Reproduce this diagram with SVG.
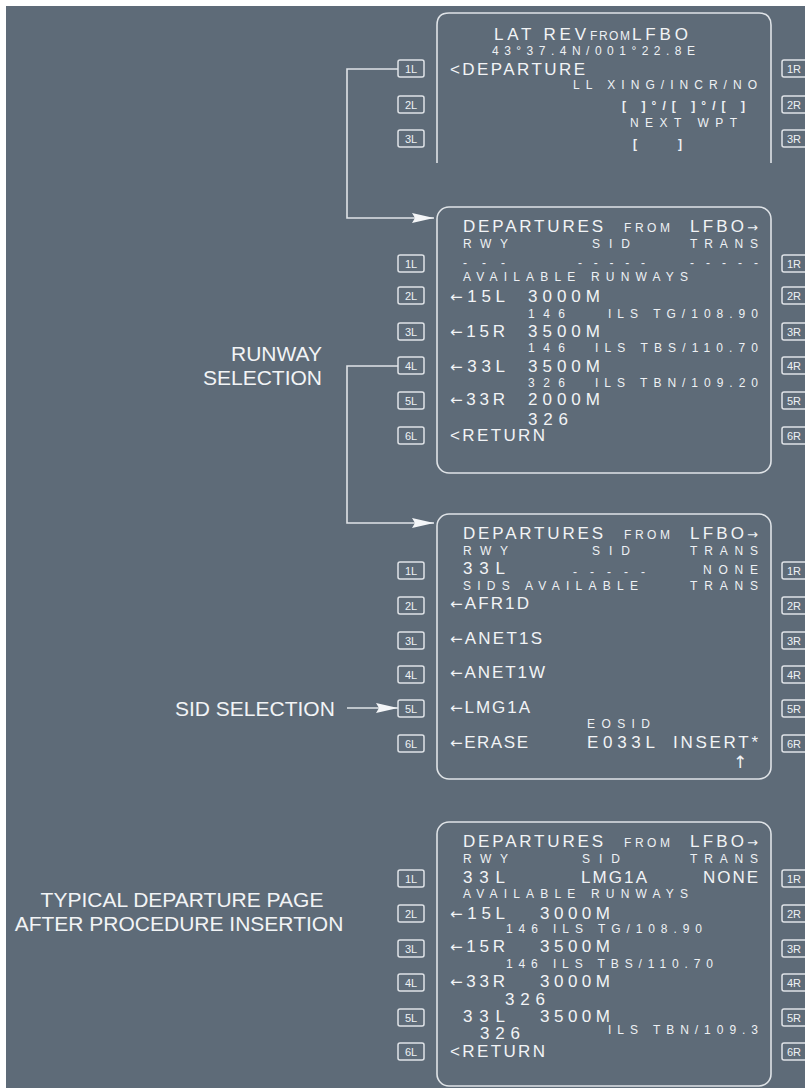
<svg xmlns="http://www.w3.org/2000/svg" width="805" height="1088" viewBox="0 0 805 1088">
<defs>
<style>
.bg{fill:#5e6b78}
.scr{fill:none;stroke:#dfe3e7;stroke-width:1.6}
.btn rect{fill:none;stroke:#dfe3e7;stroke-width:1.5}
.btn text{font-family:"Liberation Sans Narrow","Liberation Sans",Arial,sans-serif;font-size:11px;fill:#eef1f4;text-anchor:middle}
.b{font-family:"Liberation Sans",Arial,sans-serif;font-size:17px;fill:#f2f4f6}
.s{font-family:"Liberation Sans",Arial,sans-serif;font-size:12px;fill:#eef1f4}
.ar{font-family:"DejaVu Sans",sans-serif}
.lbl{font-family:"Liberation Sans",Arial,sans-serif;font-size:21px;fill:#f2f4f6}
.con{fill:none;stroke:#dfe3e7;stroke-width:1.6}
</style>
<marker id="ah" markerUnits="userSpaceOnUse" markerWidth="24" markerHeight="12" refX="22" refY="6" orient="auto">
<path d="M0,1 L22,6 L0,11 L3,6 Z" fill="#f4f6f8"/>
</marker>
</defs>
<rect width="805" height="1088" fill="#ffffff"/>
<rect class="bg" x="6" y="6" width="799" height="1082"/>

<!-- Screen 1: LAT REV -->
<g id="screen-latrev">
<path class="scr" d="M437,163 V25 Q437,13 449,13 H759 Q771,13 771,25 V163"/>
<text class="b" x="494" y="40" textLength="92">LAT REV</text>
<text class="s" x="590" y="40" textLength="40">FROM</text>
<text class="b" x="632" y="40" textLength="56">LFBO</text>
<text class="s" x="492" y="55" textLength="203">43°37.4N/001°22.8E</text>
<text class="b" x="450" y="75" textLength="135">&lt;DEPARTURE</text>
<text class="s" x="573" y="89" textLength="184">LL XING/INCR/NO</text>
<text class="s" x="622" y="110" textLength="123" font-weight="bold">[ ]°/[ ]°/[ ]</text>
<text class="s" x="630" y="127" textLength="107">NEXT WPT</text>
<text class="s" x="633" y="148" font-weight="bold">[</text>
<text class="s" x="678" y="148" font-weight="bold">]</text>
<g class="btn">
<rect x="398" y="60" width="26" height="17" rx="2"/><text x="411" y="72.5">1L</text>
<rect x="398" y="96" width="26" height="17" rx="2"/><text x="411" y="108.5">2L</text>
<rect x="398" y="130" width="26" height="17" rx="2"/><text x="411" y="142.5">3L</text>
<rect x="782" y="60" width="26" height="17" rx="2"/><text x="794" y="72.5">1R</text>
<rect x="782" y="96" width="26" height="17" rx="2"/><text x="794" y="108.5">2R</text>
<rect x="782" y="130" width="26" height="17" rx="2"/><text x="794" y="142.5">3R</text>
</g>
</g>

<!-- Screen 2: DEPARTURES runway list -->
<g id="screen-runways">
<rect class="scr" x="437" y="207" width="334" height="266" rx="12"/>
<text class="b" x="463" y="232" textLength="140">DEPARTURES</text>
<text class="s" x="624" y="232" textLength="46">FROM</text>
<text class="b" x="690" y="232" textLength="68">LFBO<tspan class="ar" font-size="13">→</tspan></text>
<text class="s" x="463" y="248" textLength="45">RWY</text>
<text class="s" x="592" y="248" textLength="38">SID</text>
<text class="s" x="690" y="248" textLength="68">TRANS</text>
<text class="s" x="463" y="267" textLength="42">---</text>
<text class="s" x="578" y="267" textLength="67">-----</text>
<text class="s" x="690" y="267" textLength="68">-----</text>
<text class="s" x="463" y="281" textLength="225">AVAILABLE RUNWAYS</text>
<text class="b" x="450" y="302" textLength="55"><tspan class="ar" font-size="15">←</tspan>15L</text>
<text class="b" x="528" y="302" textLength="72">3000M</text>
<text class="s" x="528" y="318" textLength="37">146</text>
<text class="s" x="608" y="318" textLength="150">ILS TG/108.90</text>
<text class="b" x="450" y="337" textLength="55"><tspan class="ar" font-size="15">←</tspan>15R</text>
<text class="b" x="528" y="337" textLength="72">3500M</text>
<text class="s" x="528" y="352" textLength="37">146</text>
<text class="s" x="595" y="352" textLength="163">ILS TBS/110.70</text>
<text class="b" x="450" y="372" textLength="55"><tspan class="ar" font-size="15">←</tspan>33L</text>
<text class="b" x="528" y="372" textLength="72">3500M</text>
<text class="s" x="528" y="387" textLength="37">326</text>
<text class="s" x="595" y="387" textLength="163">ILS TBN/109.20</text>
<text class="b" x="450" y="405" textLength="55"><tspan class="ar" font-size="15">←</tspan>33R</text>
<text class="b" x="528" y="405" textLength="72">2000M</text>
<text class="b" x="528" y="425" textLength="40">326</text>
<text class="b" x="450" y="441" textLength="95">&lt;RETURN</text>
<g class="btn">
<rect x="398" y="255" width="26" height="17" rx="2"/><text x="411" y="267.5">1L</text>
<rect x="398" y="287" width="26" height="17" rx="2"/><text x="411" y="299.5">2L</text>
<rect x="398" y="323" width="26" height="17" rx="2"/><text x="411" y="335.5">3L</text>
<rect x="398" y="357" width="26" height="17" rx="2"/><text x="411" y="369.5">4L</text>
<rect x="398" y="392" width="26" height="17" rx="2"/><text x="411" y="404.5">5L</text>
<rect x="398" y="427" width="26" height="17" rx="2"/><text x="411" y="439.5">6L</text>
<rect x="782" y="255" width="26" height="17" rx="2"/><text x="794" y="267.5">1R</text>
<rect x="782" y="287" width="26" height="17" rx="2"/><text x="794" y="299.5">2R</text>
<rect x="782" y="323" width="26" height="17" rx="2"/><text x="794" y="335.5">3R</text>
<rect x="782" y="357" width="26" height="17" rx="2"/><text x="794" y="369.5">4R</text>
<rect x="782" y="392" width="26" height="17" rx="2"/><text x="794" y="404.5">5R</text>
<rect x="782" y="427" width="26" height="17" rx="2"/><text x="794" y="439.5">6R</text>
</g>
</g>

<!-- Screen 3: SID list -->
<g id="screen-sids">
<rect class="scr" x="437" y="514" width="334" height="265" rx="12"/>
<text class="b" x="463" y="539" textLength="140">DEPARTURES</text>
<text class="s" x="624" y="539" textLength="46">FROM</text>
<text class="b" x="690" y="539" textLength="68">LFBO<tspan class="ar" font-size="13">→</tspan></text>
<text class="s" x="463" y="555" textLength="45">RWY</text>
<text class="s" x="592" y="555" textLength="38">SID</text>
<text class="s" x="690" y="555" textLength="68">TRANS</text>
<text class="b" x="463" y="574" textLength="42">33L</text>
<text class="s" x="573" y="576" textLength="72">-----</text>
<text class="s" x="703" y="574" textLength="55">NONE</text>
<text class="s" x="463" y="590" textLength="175">SIDS AVAILABLE</text>
<text class="s" x="690" y="590" textLength="68">TRANS</text>
<text class="b" x="450" y="609" textLength="79"><tspan class="ar" font-size="15">←</tspan>AFR1D</text>
<text class="b" x="450" y="644" textLength="92"><tspan class="ar" font-size="15">←</tspan>ANET1S</text>
<text class="b" x="450" y="678" textLength="95"><tspan class="ar" font-size="15">←</tspan>ANET1W</text>
<text class="b" x="450" y="713" textLength="80"><tspan class="ar" font-size="15">←</tspan>LMG1A</text>
<text class="s" x="587" y="728" textLength="63">EOSID</text>
<text class="b" x="450" y="748" textLength="78"><tspan class="ar" font-size="15">←</tspan>ERASE</text>
<text class="b" x="587" y="748" textLength="68">E033L</text>
<text class="b" x="673" y="748" textLength="85">INSERT*</text>
<text class="b ar" x="733" y="768" font-size="14">↑</text>
<g class="btn">
<rect x="398" y="562" width="26" height="17" rx="2"/><text x="411" y="574.5">1L</text>
<rect x="398" y="597" width="26" height="17" rx="2"/><text x="411" y="609.5">2L</text>
<rect x="398" y="632" width="26" height="17" rx="2"/><text x="411" y="644.5">3L</text>
<rect x="398" y="666" width="26" height="17" rx="2"/><text x="411" y="678.5">4L</text>
<rect x="398" y="700" width="26" height="17" rx="2"/><text x="411" y="712.5">5L</text>
<rect x="398" y="735" width="26" height="17" rx="2"/><text x="411" y="747.5">6L</text>
<rect x="782" y="562" width="26" height="17" rx="2"/><text x="794" y="574.5">1R</text>
<rect x="782" y="597" width="26" height="17" rx="2"/><text x="794" y="609.5">2R</text>
<rect x="782" y="632" width="26" height="17" rx="2"/><text x="794" y="644.5">3R</text>
<rect x="782" y="666" width="26" height="17" rx="2"/><text x="794" y="678.5">4R</text>
<rect x="782" y="700" width="26" height="17" rx="2"/><text x="794" y="712.5">5R</text>
<rect x="782" y="735" width="26" height="17" rx="2"/><text x="794" y="747.5">6R</text>
</g>
</g>

<!-- Screen 4: after insertion -->
<g id="screen-after">
<rect class="scr" x="437" y="822" width="334" height="264" rx="12"/>
<text class="b" x="463" y="847" textLength="140">DEPARTURES</text>
<text class="s" x="624" y="847" textLength="46">FROM</text>
<text class="b" x="690" y="847" textLength="68">LFBO<tspan class="ar" font-size="13">→</tspan></text>
<text class="s" x="463" y="863" textLength="45">RWY</text>
<text class="s" x="582" y="863" textLength="38">SID</text>
<text class="s" x="690" y="863" textLength="68">TRANS</text>
<text class="b" x="463" y="883" textLength="42">33L</text>
<text class="b" x="581" y="883" textLength="66">LMG1A</text>
<text class="b" x="703" y="883" textLength="55">NONE</text>
<text class="s" x="463" y="898" textLength="225">AVAILABLE RUNWAYS</text>
<text class="b" x="450" y="919" textLength="55"><tspan class="ar" font-size="15">←</tspan>15L</text>
<text class="b" x="540" y="919" textLength="70">3000M</text>
<text class="s" x="506" y="933" textLength="196">146 ILS TG/108.90</text>
<text class="b" x="450" y="952" textLength="55"><tspan class="ar" font-size="15">←</tspan>15R</text>
<text class="b" x="540" y="952" textLength="70">3500M</text>
<text class="s" x="506" y="968" textLength="207">146 ILS TBS/110.70</text>
<text class="b" x="450" y="987" textLength="55"><tspan class="ar" font-size="15">←</tspan>33R</text>
<text class="b" x="540" y="987" textLength="70">3000M</text>
<text class="b" x="505" y="1005" textLength="40">326</text>
<text class="b" x="463" y="1022" textLength="42">33L</text>
<text class="b" x="540" y="1022" textLength="70">3500M</text>
<text class="b" x="480" y="1039" textLength="40">326</text>
<text class="s" x="608" y="1034" textLength="150">ILS TBN/109.3</text>
<text class="b" x="450" y="1057" textLength="95">&lt;RETURN</text>
<g class="btn">
<rect x="398" y="870" width="26" height="17" rx="2"/><text x="411" y="882.5">1L</text>
<rect x="398" y="905" width="26" height="17" rx="2"/><text x="411" y="917.5">2L</text>
<rect x="398" y="940" width="26" height="17" rx="2"/><text x="411" y="952.5">3L</text>
<rect x="398" y="974" width="26" height="17" rx="2"/><text x="411" y="986.5">4L</text>
<rect x="398" y="1009" width="26" height="17" rx="2"/><text x="411" y="1021.5">5L</text>
<rect x="398" y="1043" width="26" height="17" rx="2"/><text x="411" y="1055.5">6L</text>
<rect x="782" y="870" width="26" height="17" rx="2"/><text x="794" y="882.5">1R</text>
<rect x="782" y="905" width="26" height="17" rx="2"/><text x="794" y="917.5">2R</text>
<rect x="782" y="940" width="26" height="17" rx="2"/><text x="794" y="952.5">3R</text>
<rect x="782" y="974" width="26" height="17" rx="2"/><text x="794" y="986.5">4R</text>
<rect x="782" y="1009" width="26" height="17" rx="2"/><text x="794" y="1021.5">5R</text>
<rect x="782" y="1043" width="26" height="17" rx="2"/><text x="794" y="1055.5">6R</text>
</g>
</g>

<!-- Labels -->
<g id="label-runway">
<text class="lbl" x="322" y="361" text-anchor="end">RUNWAY</text>
<text class="lbl" x="322" y="385" text-anchor="end">SELECTION</text>
</g>
<g id="label-sid">
<text class="lbl" x="175" y="716">SID SELECTION</text>
</g>
<g id="label-typical">
<text class="lbl" x="182" y="907" text-anchor="middle">TYPICAL DEPARTURE PAGE</text>
<text class="lbl" x="179" y="931" text-anchor="middle">AFTER PROCEDURE INSERTION</text>
</g>

<!-- Connectors -->
<g id="connectors">
<polyline class="con" points="398,69 347,69 347,218 434,218" marker-end="url(#ah)"/>
<polyline class="con" points="398,366 347,366 347,523 434,523" marker-end="url(#ah)"/>
<polyline class="con" points="347,708 398,708" marker-end="url(#ah)"/>
</g>
</svg>
